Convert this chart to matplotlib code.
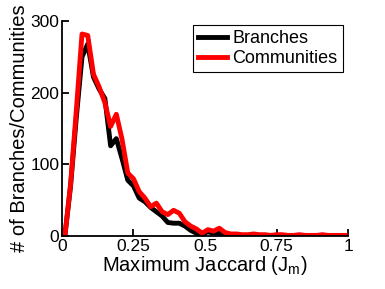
import numpy as np
import matplotlib
matplotlib.use("Agg")
import matplotlib.pyplot as plt

plt.rcParams['font.family'] = ['Liberation Sans', 'DejaVu Sans']

# bin centres (Jm) and counts
jm = [0.01, 0.03, 0.05, 0.07, 0.09, 0.11, 0.13, 0.15, 0.17, 0.19,
      0.21, 0.23, 0.25, 0.27, 0.29, 0.31, 0.33, 0.35, 0.37, 0.39,
      0.41, 0.43, 0.45, 0.47, 0.49, 0.51, 0.53, 0.55, 0.57, 0.59,
      0.61, 0.63, 0.65, 0.67, 0.69, 0.71, 0.73, 0.75, 0.77, 0.79,
      0.81, 0.83, 0.85, 0.87, 0.89, 0.91, 0.93, 0.95, 0.97, 0.99]

branches = [0, 70, 165, 250, 268, 222, 205, 192, 126, 136,
            108, 78, 70, 53, 48, 40, 34, 28, 19, 18,
            18, 14, 8, 4, 3, 6, 4, 4, 1, 1,
            1, 0, 0, 1, 0, 0, 0, 0, 0, 0,
            0, 0, 0, 0, 0, 0, 0, 0, 0, 0]

communities = [0, 72, 175, 282, 280, 226, 208, 186, 153, 170,
               135, 88, 80, 62, 53, 41, 46, 34, 30, 36,
               32, 20, 14, 10, 4, 9, 7, 11, 5, 3,
               3, 2, 2, 3, 2, 2, 1, 2, 2, 1,
               1, 2, 1, 1, 1, 2, 1, 1, 1, 1]

fig = plt.figure(figsize=(3.85, 2.89), dpi=100)
ax = fig.add_axes([0.161, 0.183, 0.743, 0.744])

ax.plot(jm, branches, color='black', lw=3.5, label='Branches')
ax.plot(jm, communities, color='red', lw=3.5, label='Communities')

ax.set_xlim(0, 1)
ax.set_ylim(0, 300)
ax.set_xticks([0, 0.25, 0.5, 0.75, 1])
ax.set_xticklabels(['0', '0.25', '0.5', '0.75', '1'])
ax.set_yticks([0, 100, 200, 300])

for s in ['top', 'right']:
    ax.spines[s].set_visible(False)
for s in ['left', 'bottom']:
    ax.spines[s].set_linewidth(1.3)
ax.tick_params(direction='in', length=5, width=1.3, labelsize=12.5, pad=2)

ax.set_xlabel('Maximum Jaccard (J$_\\mathregular{m}$)', fontsize=14.5, labelpad=0)
ax.set_ylabel('# of Branches/Communities', fontsize=14.5, labelpad=1)

leg = ax.legend(loc='upper right', bbox_to_anchor=(0.995, 1.0), fontsize=13,
                frameon=True, fancybox=False, framealpha=1, edgecolor='black',
                handlelength=1.6, handletextpad=0.3, borderpad=0.3,
                labelspacing=0.15, borderaxespad=0.2)
leg.get_frame().set_linewidth(0.8)

fig.savefig('out.png', dpi=100)
